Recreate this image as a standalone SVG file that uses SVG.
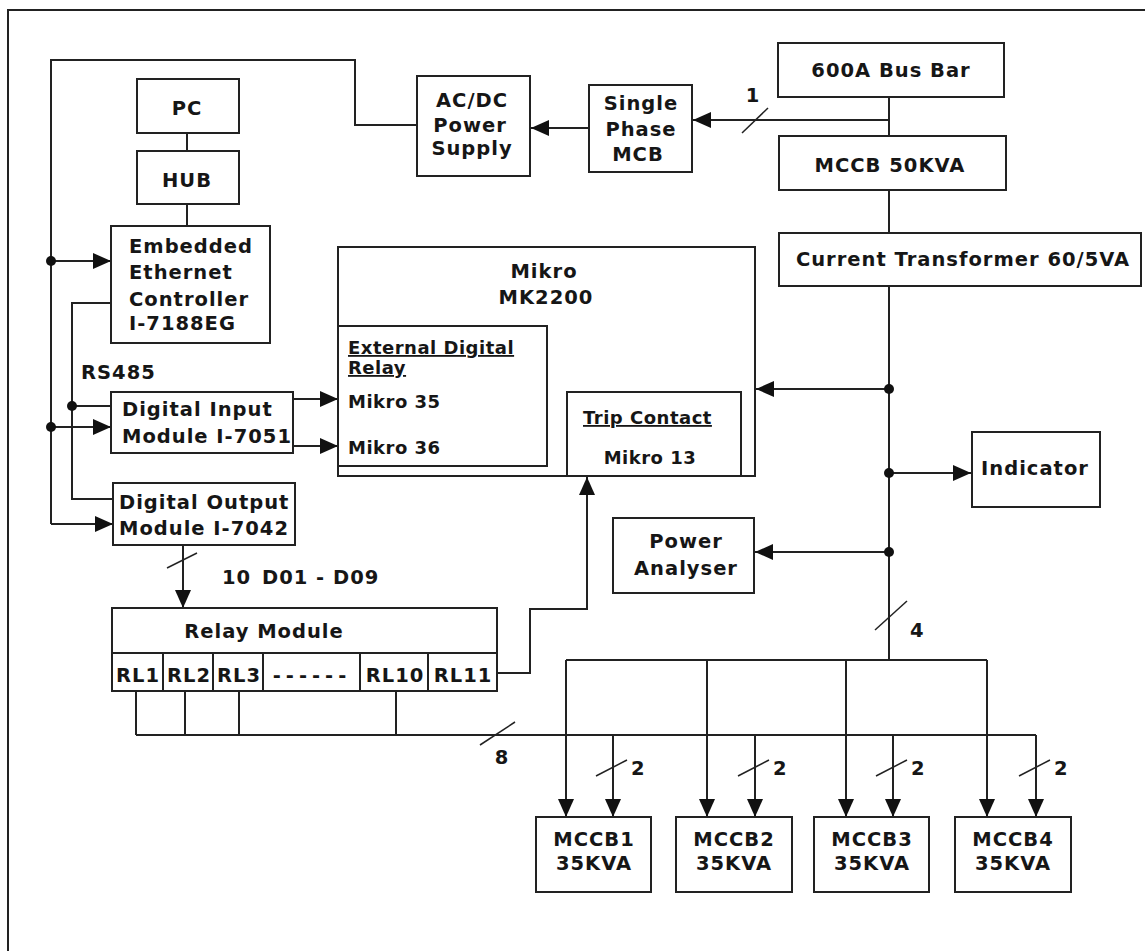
<svg xmlns="http://www.w3.org/2000/svg" width="1145" height="951" viewBox="0 0 1145 951">
<style>
.bx{fill:#fff;stroke:#222;stroke-width:2}
.ln{fill:none;stroke:#222;stroke-width:2}
.sl{fill:none;stroke:#222;stroke-width:1.5}
.t{font-family:"DejaVu Sans",Verdana,sans-serif;font-weight:bold;font-size:19.5px;letter-spacing:1px;fill:#161616}
.s{font-family:"DejaVu Sans",Verdana,sans-serif;font-weight:bold;font-size:18px;letter-spacing:0.5px;fill:#161616}
.m{text-anchor:middle}
.u{text-decoration:underline}
.dot{fill:#111}
</style>
<defs>
<marker id="ah" viewBox="0 0 18 16" refX="18" refY="8" markerWidth="18" markerHeight="16" markerUnits="userSpaceOnUse" orient="auto">
<path d="M0,0 L18,8 L0,16 z" fill="#111"/>
</marker>
</defs>
<rect width="1145" height="951" fill="#fff"/>
<g id="frame">
<path class="ln" d="M8,951 V10 H1145"/>
</g>

<g id="connectors">
<path class="ln" d="M187,133 V151"/>
<path class="ln" d="M187,204 V226"/>
<path class="ln" d="M51,524 V60 H355 V125 H417"/>
<path class="ln" marker-end="url(#ah)" d="M51,261 H111"/>
<path class="ln" marker-end="url(#ah)" d="M51,427 H111"/>
<path class="ln" marker-end="url(#ah)" d="M51,524 H113"/>
<path class="ln" d="M111,303 H72 V499 H113"/>
<path class="ln" d="M72,406 H111"/>
<path class="ln" marker-end="url(#ah)" d="M293,399 H338"/>
<path class="ln" marker-end="url(#ah)" d="M293,446 H338"/>
<path class="ln" marker-end="url(#ah)" d="M589,128 H531"/>
<path class="ln" marker-end="url(#ah)" d="M889,120 H693"/>
<path class="ln" d="M889,97 V136"/>
<path class="ln" d="M889,190 V233"/>
<path class="ln" d="M889,286 V660"/>
<path class="ln" marker-end="url(#ah)" d="M889,389 H756"/>
<path class="ln" marker-end="url(#ah)" d="M889,473 H971"/>
<path class="ln" marker-end="url(#ah)" d="M889,552 H755"/>
<path class="ln" marker-end="url(#ah)" d="M183,545 V608"/>
<path class="ln" marker-end="url(#ah)" d="M497,673 H530 V609 H587 V477"/>
<path class="ln" d="M136,691 V735 M185,691 V735 M239,691 V735 M396,691 V735 M136,735 H1036"/>
<path class="ln" d="M566,660 H987"/>
<path class="ln" marker-end="url(#ah)" d="M566,660 V817"/>
<path class="ln" marker-end="url(#ah)" d="M707,660 V817"/>
<path class="ln" marker-end="url(#ah)" d="M846,660 V817"/>
<path class="ln" marker-end="url(#ah)" d="M987,660 V817"/>
<path class="ln" marker-end="url(#ah)" d="M613,735 V817"/>
<path class="ln" marker-end="url(#ah)" d="M755,735 V817"/>
<path class="ln" marker-end="url(#ah)" d="M893,735 V817"/>
<path class="ln" marker-end="url(#ah)" d="M1036,735 V817"/>
<path class="sl" d="M742,133 L768,108"/>
<path class="sl" d="M875,630 L907,601"/>
<path class="sl" d="M167,568 L197,553"/>
<path class="sl" d="M480,745 L515,722"/>
<path class="sl" d="M596,776 L627,760 M738,776 L769,760 M876,776 L907,760 M1019,776 L1050,760"/>
<circle class="dot" cx="51" cy="261" r="5"/>
<circle class="dot" cx="51" cy="427" r="5"/>
<circle class="dot" cx="72" cy="406" r="5"/>
<circle class="dot" cx="889" cy="389" r="5"/>
<circle class="dot" cx="889" cy="473" r="5"/>
<circle class="dot" cx="889" cy="552" r="5"/>
<text class="t m" x="753" y="102">1</text>
<text class="t" x="910" y="637">4</text>
<text class="t" x="81" y="379">RS485</text>
<text class="t" y="584"><tspan x="222">10</tspan><tspan x="262">D01 - D09</tspan></text>
<text class="t m" x="502" y="764">8</text>
<text class="t" x="631" y="775">2</text>
<text class="t" x="773" y="775">2</text>
<text class="t" x="911" y="775">2</text>
<text class="t" x="1054" y="775">2</text>
</g>

<g id="pc"><rect class="bx" x="137" y="79" width="102" height="54"/><text class="t m" x="187" y="115">PC</text></g>
<g id="hub"><rect class="bx" x="137" y="151" width="102" height="53"/><text class="t m" x="187" y="187">HUB</text></g>
<g id="ethernet-controller"><rect class="bx" x="111" y="226" width="159" height="117"/>
<text class="t" x="129" y="253">Embedded</text><text class="t" x="129" y="279">Ethernet</text><text class="t" x="129" y="306">Controller</text><text class="t" x="129" y="330">I-7188EG</text></g>
<g id="acdc"><rect class="bx" x="417" y="76" width="113" height="100"/>
<text class="t m" x="472" y="107">AC/DC</text><text class="t m" x="470" y="132">Power</text><text class="t m" x="472" y="155">Supply</text></g>
<g id="mcb"><rect class="bx" x="589" y="85" width="103" height="87"/>
<text class="t m" x="641" y="110">Single</text><text class="t m" x="641" y="136">Phase</text><text class="t m" x="638" y="161">MCB</text></g>
<g id="busbar"><rect class="bx" x="778" y="43" width="226" height="54"/><text class="t m" x="891" y="77">600A Bus Bar</text></g>
<g id="mccb50"><rect class="bx" x="779" y="136" width="227" height="54"/><text class="t m" x="890" y="172">MCCB 50KVA</text></g>
<g id="ct"><rect class="bx" x="779" y="233" width="362" height="53"/><text class="t m" x="963" y="266">Current Transformer 60/5VA</text></g>
<g id="mikro"><rect class="bx" x="338" y="247" width="417" height="229"/>
<text class="t m" x="544" y="278">Mikro</text><text class="t m" x="546" y="304">MK2200</text>
<g id="ext-relay"><rect class="bx" x="338" y="326" width="209" height="140"/>
<text class="s u" x="348" y="354">External Digital</text><text class="s u" x="348" y="374">Relay</text>
<text class="s" x="348" y="408">Mikro 35</text><text class="s" x="348" y="454">Mikro 36</text></g>
<g id="trip"><rect class="bx" x="567" y="392" width="174" height="84"/>
<text class="s u" x="583" y="424">Trip Contact</text><text class="s m" x="650" y="464">Mikro 13</text></g>
</g>
<g id="din"><rect class="bx" x="111" y="392" width="182" height="61"/>
<text class="t" x="122" y="416">Digital Input</text><text class="t" x="122" y="443">Module I-7051</text></g>
<g id="dout"><rect class="bx" x="113" y="483" width="182" height="62"/>
<text class="t" x="119" y="509">Digital Output</text><text class="t" x="119" y="535">Module I-7042</text></g>
<g id="relay-module"><rect class="bx" x="112" y="608" width="385" height="83"/>
<path class="ln" d="M112,653 H497 M163,653 V691 M213,653 V691 M263,653 V691 M360,653 V691 M428,653 V691"/>
<text class="t m" x="264" y="638">Relay Module</text>
<text class="t m" x="138" y="682">RL1</text><text class="t m" x="189" y="682">RL2</text><text class="t m" x="239" y="682">RL3</text>
<text class="t m" x="312" y="682" style="letter-spacing:5px">------</text>
<text class="t m" x="395" y="682">RL10</text><text class="t m" x="463" y="682">RL11</text></g>
<g id="indicator"><rect class="bx" x="972" y="432" width="128" height="75"/><text class="t m" x="1035" y="475">Indicator</text></g>
<g id="power-analyser"><rect class="bx" x="613" y="518" width="141" height="75"/>
<text class="t m" x="686" y="548">Power</text><text class="t m" x="686" y="575">Analyser</text></g>
<g id="mccb1"><rect class="bx" x="536" y="817" width="115" height="75"/><text class="t m" x="594" y="846">MCCB1</text><text class="t m" x="594" y="870">35KVA</text></g>
<g id="mccb2"><rect class="bx" x="676" y="817" width="116" height="75"/><text class="t m" x="734" y="846">MCCB2</text><text class="t m" x="734" y="870">35KVA</text></g>
<g id="mccb3"><rect class="bx" x="814" y="817" width="115" height="75"/><text class="t m" x="872" y="846">MCCB3</text><text class="t m" x="872" y="870">35KVA</text></g>
<g id="mccb4"><rect class="bx" x="955" y="817" width="116" height="75"/><text class="t m" x="1013" y="846">MCCB4</text><text class="t m" x="1013" y="870">35KVA</text></g>
</svg>
